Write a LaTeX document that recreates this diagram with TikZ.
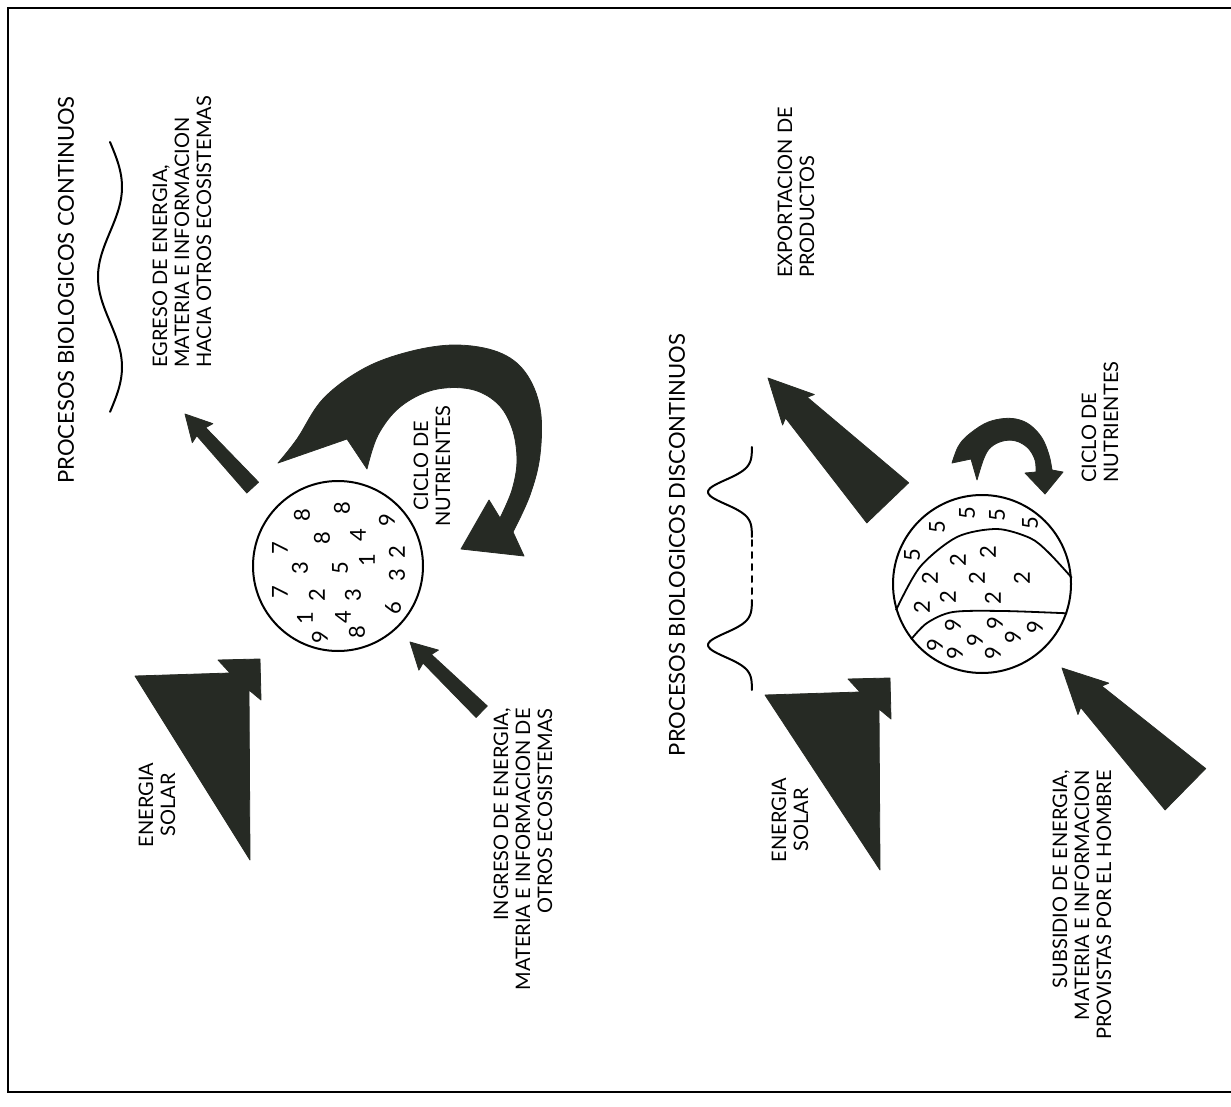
\documentclass[tikz,border=0pt]{standalone}
\usepackage{fontspec}
\setmainfont{Lato}
\usetikzlibrary{calc}
\definecolor{ink}{RGB}{38,42,36}

\begin{document}
\begin{tikzpicture}[
  x=0.5pt, y=-0.5pt,
  lbl/.style={rotate=90, inner sep=0pt, font=\fontsize{10}{11}\selectfont},
  title/.style={rotate=90, inner sep=0pt, font=\fontsize{11}{13}\selectfont},
  digit/.style={rotate=90, inner sep=0pt, font=\fontsize{11}{13}\selectfont},
  ring/.style={draw, circle, line width=1pt, inner sep=0pt, minimum size=#1},
  blob/.style={fill=ink, draw=ink, line join=round},
  trace/.style={line width=1pt, line cap=round}
]
\useasboundingbox (0,0) rectangle (1231,1107);
\draw[line width=0.8pt] (1231,8) -- (8,8) -- (8,1092) -- (1231,1092);

% continuous processes
\node[title] (tcont) at (66,290) {PROCESOS BIOLOGICOS CONTINUOS};
\draw[trace] plot[domain=0:1, samples=80, smooth] ({110+12*sin(540*\x)}, {142+270*\x});

\node[ring=85pt] (cont) at (338,566) {};
\foreach \px/\py/\d [count=\i] in {302/515/8, 342/508/8, 280/548/7, 322/538/8, 358/535/4,
    387/520/9, 300/568/3, 340/568/5, 367/560/1, 397/552/2, 280/592/7, 317/595/2,
    353/595/3, 397/575/3, 305/618/1, 343/617/4, 393/608/6, 320/637/9, 357/632/8}
  \node[digit] (c\i) at (\px,\py) {\d};

\fill[blob] (135,676) -- (230,673) -- (218,660) -- (260,659) -- (261,700) -- (249,690) -- (250,860) -- cycle;
\node[lbl, align=center] (sol1) at (157,805) {ENERGIA\\SOLAR};

\begin{scope}[shift={(185,414)}, rotate=-47.4]
  \fill[blob] (0,0) -- (26,14) -- (24,6) -- (100,8) -- (100,-8) -- (24,-6) -- (26,-14) -- cycle;
\end{scope}
\node[lbl, anchor=west, align=left] (egr) at (182,368)
  {EGRESO DE ENERGIA,\\MATERIA E INFORMACION\\HACIA OTROS ECOSISTEMAS};

\begin{scope}[shift={(410,642)}, rotate=-44.2]
  \fill[blob] (0,0) -- (26,14) -- (24,6) -- (100,8) -- (100,-8) -- (24,-6) -- (26,-14) -- cycle;
\end{scope}
\node[lbl, anchor=east, align=right] (ingr) at (523,708)
  {INGRESO DE ENERGIA,\\MATERIA E INFORMACION DE\\OTROS ECOSISTEMAS};

% nutrient cycle, big
\fill[blob] plot[smooth, tension=0.6] coordinates {(278,463) (297,439) (323,399) (363,369) (408,352)
    (455,345) (498,352) (525,372) (540,408) (540,455) (530,495) (513,532)}
  -- (524,556) -- (461,549) -- (489,500)
  -- plot[smooth, tension=0.6] coordinates {(500,518) (512,490) (517,460) (512,428) (497,403)
    (470,389) (433,390) (400,407) (378,435) (367,469)}
  -- (347,439) -- cycle;
\node[lbl, align=center] (cyc1) at (432,466) {CICLO DE\\NUTRIENTES};

% discontinuous processes
\node[title] (tdisc) at (677,545) {PROCESOS BIOLOGICOS DISCONTINUOS};
\draw[trace] plot[domain=-45:45, samples=60, smooth] ({752-44*exp(-((\x)*(\x))/289)}, {492+\x});
\draw[trace] plot[domain=-45:45, samples=60, smooth] ({752-44*exp(-((\x)*(\x))/289)}, {645+\x});
\draw[trace, dashed] (752,540) -- (752,597);

\node[ring=89pt] (disc) at (982,584) {};
\draw[line width=0.9pt] plot[smooth] coordinates {(disc.197) (920,567) (957,537) (997,529) (1030,538) (1048,552) (disc.4)};
\draw[line width=0.9pt] plot[smooth] coordinates {(disc.218) (927,623) (953,612) (1003,611) (disc.341)};
\foreach \px/\py/\d [count=\i] in {937/527/5, 967/513/5, 997/515/5, 1030/523/5, 912/555/5,
    988/552/2, 958/560/2, 930/578/2, 977/578/2, 1022/578/2, 948/597/2, 993/598/2, 922/607/2,
    953/625/9, 995/623/9, 1035/627/9, 935/645/9, 975/640/9, 1013/637/9, 955/653/9, 993/653/9}
  \node[digit] (d\i) at (\px,\py) {\d};

\fill[blob] (765,695) -- (860,692) -- (848,679) -- (890,678) -- (891,719) -- (879,709) -- (880,870) -- cycle;
\node[lbl, align=center] (sol2) at (790,820) {ENERGIA\\SOLAR};

\begin{scope}[shift={(768,378)}, rotate=-46.2]
  \fill[blob] (0,0) -- (44,22) -- (41,15) -- (173,29) -- (173,-29) -- (41,-15) -- (44,-22) -- cycle;
\end{scope}
\node[lbl, anchor=west, align=left] (expo) at (796,278) {EXPORTACION DE\\PRODUCTOS};

% nutrient cycle, small
\fill[blob] plot[smooth, tension=0.6] coordinates {(952,463) (958,447) (967,436) (984,424) (1000,419)
    (1016,419) (1030,425) (1042,438) (1049,455) (1052,470)}
  -- (1063,472) -- (1045,494) -- (1025,473)
  -- plot[smooth, tension=0.6] coordinates {(1036,472) (1035,460) (1028,448) (1016,441) (1003,441)
    (991,447) (984,458) (977,480)}
  -- (971,459) -- cycle;
\node[lbl, anchor=west, align=left] (cyc2) at (1100,483) {CICLO DE\\NUTRIENTES};

\begin{scope}[shift={(1062,668)}, rotate=-44.5]
  \fill[blob] (0,0) -- (44,22) -- (41,15) -- (173,29) -- (173,-29) -- (41,-15) -- (44,-22) -- cycle;
\end{scope}
\node[lbl, anchor=east, align=right] (subs) at (1082,770)
  {SUBSIDIO DE ENERGIA,\\MATERIA E INFORMACION\\PROVISTAS POR EL HOMBRE};

\end{tikzpicture}
\end{document}
